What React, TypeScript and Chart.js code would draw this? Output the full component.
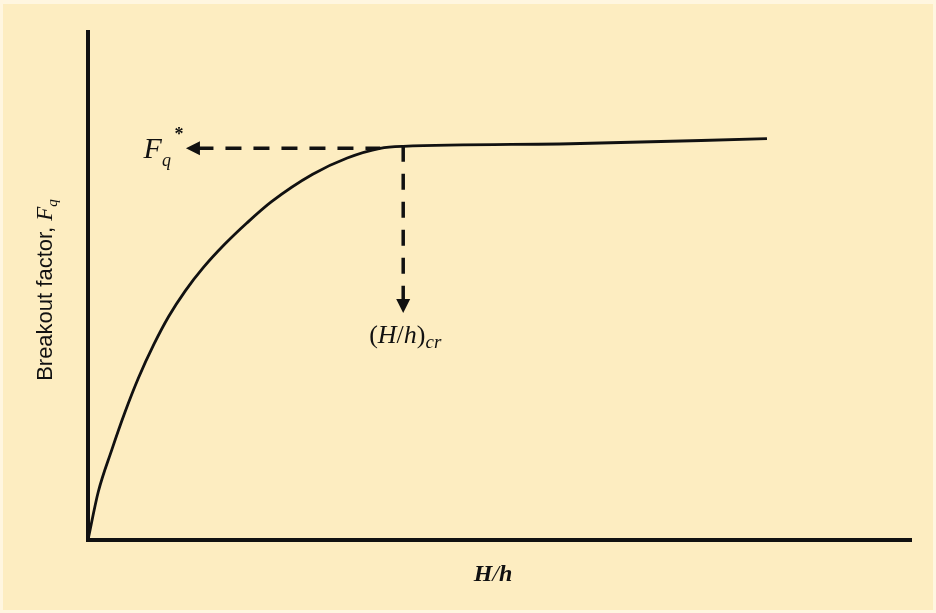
import React, { useEffect, useRef } from "react";
import { Chart, registerables } from "chart.js";

Chart.register(...registerables);

// Breakout factor curve: rises from the origin and levels off past the critical embedment ratio
const embedmentRatio = [0, 0.125, 0.29, 0.45, 0.61, 0.8, 0.98, 1.18, 1.4, 1.66, 1.93, 2.23, 2.73, 3.15, 3.55, 3.83, 5.86, 8.25];
const breakoutFactor = [0, 0.95, 1.78, 2.52, 3.18, 3.85, 4.4, 4.9, 5.36, 5.82, 6.24, 6.66, 7.2, 7.52, 7.71, 7.75, 7.8, 7.9];

// Marker values for the limiting factor and the critical ratio
const criticalRatio = 3.83;
const limitFactor = 7.71;
const horizontalGuideFrom = 3.55; // where the horizontal guide leaves the curve
const horizontalArrowTip = 1.19; // x value the left arrow points to
const verticalArrowTip = 4.47; // y value the down arrow points to

const BG = "#FDEDC1";
const INK = "#111111";
const SERIF = '"Liberation Serif", "DejaVu Serif", serif';
const SANS = '"Liberation Sans", Arial, sans-serif';

type Seg = { t: string; font: string; dy?: number };

function drawRich(ctx: CanvasRenderingContext2D, segs: Seg[], x: number, y: number) {
  let cx = x;
  for (const s of segs) {
    ctx.font = s.font;
    ctx.fillText(s.t, cx, y + (s.dy || 0));
    cx += ctx.measureText(s.t).width;
  }
}

function richWidth(ctx: CanvasRenderingContext2D, segs: Seg[]) {
  let w = 0;
  for (const s of segs) {
    ctx.font = s.font;
    w += ctx.measureText(s.t).width;
  }
  return w;
}

const decorPlugin = {
  id: "decor",
  beforeDraw(chart: any) {
    const { ctx, width, height } = chart;
    ctx.save();
    ctx.fillStyle = "#FFF6E0";
    ctx.fillRect(0, 0, width, height);
    ctx.fillStyle = BG;
    ctx.fillRect(3, 4, width - 6, height - 7);
    ctx.restore();
  },
  afterDatasetsDraw(chart: any) {
    const { ctx, scales } = chart;
    const xs = scales.x;
    const ys = scales.y;
    ctx.save();
    ctx.fillStyle = INK;

    // left arrowhead on the horizontal guide
    const ax = xs.getPixelForValue(horizontalArrowTip);
    const ay = ys.getPixelForValue(limitFactor);
    ctx.beginPath();
    ctx.moveTo(ax, ay);
    ctx.lineTo(ax + 14, ay - 7);
    ctx.lineTo(ax + 14, ay + 7);
    ctx.closePath();
    ctx.fill();

    // down arrowhead on the vertical guide
    const bx = xs.getPixelForValue(criticalRatio);
    const by = ys.getPixelForValue(verticalArrowTip);
    ctx.beginPath();
    ctx.moveTo(bx, by);
    ctx.lineTo(bx - 7, by - 14);
    ctx.lineTo(bx + 7, by - 14);
    ctx.closePath();
    ctx.fill();

    ctx.textBaseline = "alphabetic";
    ctx.textAlign = "left";

    // F_q* label
    const fq: Seg[] = [
      { t: "F", font: `italic 30px ${SERIF}` },
      { t: "q", font: `italic 18px ${SERIF}`, dy: 8 },
    ];
    const fqW = richWidth(ctx, fq);
    const fqX = ax - 15 - fqW;
    drawRich(ctx, fq, fqX, ay + 10);
    ctx.font = `bold 18px ${SERIF}`;
    ctx.fillText("*", fqX + 31, ay - 8);

    // (H/h)_cr label
    const hc: Seg[] = [
      { t: "(", font: `26px ${SERIF}` },
      { t: "H", font: `italic 26px ${SERIF}` },
      { t: "/", font: `26px ${SERIF}` },
      { t: "h", font: `italic 26px ${SERIF}` },
      { t: ")", font: `26px ${SERIF}` },
      { t: "cr", font: `italic 19px ${SERIF}`, dy: 5 },
    ];
    const hcW = richWidth(ctx, hc);
    drawRich(ctx, hc, bx + 2 - hcW / 2, by + 30);

    // x axis title
    const xt: Seg[] = [
      { t: "H", font: `italic bold 24px ${SERIF}` },
      { t: "/", font: `italic 24px ${SERIF}` },
      { t: "h", font: `italic bold 24px ${SERIF}` },
    ];
    const xtW = richWidth(ctx, xt);
    drawRich(ctx, xt, 493 - xtW / 2, 581);

    // y axis title, rotated
    const yt: Seg[] = [
      { t: "Breakout factor, ", font: `22px ${SANS}` },
      { t: "F", font: `italic 23px ${SERIF}` },
      { t: "q", font: `italic 15px ${SERIF}`, dy: 5 },
    ];
    const ytW = richWidth(ctx, yt);
    ctx.translate(52, 290);
    ctx.rotate(-Math.PI / 2);
    drawRich(ctx, yt, -ytW / 2, 0);
    ctx.restore();
  },
};

export default function App() {
  const ref = useRef<HTMLCanvasElement | null>(null);

  useEffect(() => {
    if (!ref.current) return;
    const chart = new Chart(ref.current, {
      type: "line",
      data: {
        datasets: [
          {
            label: "Breakout factor",
            data: embedmentRatio.map((x, i) => ({ x, y: breakoutFactor[i] })),
            borderColor: INK,
            borderWidth: 2.8,
            pointRadius: 0,
            cubicInterpolationMode: "monotone",
            fill: false,
          },
          {
            label: "Limit guide",
            data: [
              { x: horizontalArrowTip + 0.14, y: limitFactor },
              { x: horizontalGuideFrom, y: limitFactor },
            ],
            borderColor: INK,
            borderWidth: 3.5,
            borderDash: [16, 12],
            pointRadius: 0,
            fill: false,
          },
          {
            label: "Critical guide",
            data: [
              { x: criticalRatio, y: limitFactor + 0.05 },
              { x: criticalRatio, y: verticalArrowTip + 0.2 },
            ],
            borderColor: INK,
            borderWidth: 3.5,
            borderDash: [16, 12],
            pointRadius: 0,
            fill: false,
          },
        ],
      },
      options: {
        animation: false,
        responsive: false,
        layout: { padding: { left: 80, top: 32, right: 25, bottom: 65 } },
        plugins: {
          legend: { display: false },
          tooltip: { enabled: false },
        },
        scales: {
          x: {
            type: "linear",
            min: 0,
            max: 10,
            grid: { display: false },
            ticks: { display: false },
            border: { display: true, color: INK, width: 4 },
          },
          y: {
            type: "linear",
            min: 0,
            max: 10,
            grid: { display: false },
            ticks: { display: false },
            border: { display: true, color: INK, width: 4 },
          },
        },
      },
      plugins: [decorPlugin],
    });
    return () => chart.destroy();
  }, []);

  return (
    <div style={{ position: "absolute", left: 0, top: 0, width: 936, height: 613 }}>
      <canvas ref={ref} width={936} height={613} />
    </div>
  );
}
